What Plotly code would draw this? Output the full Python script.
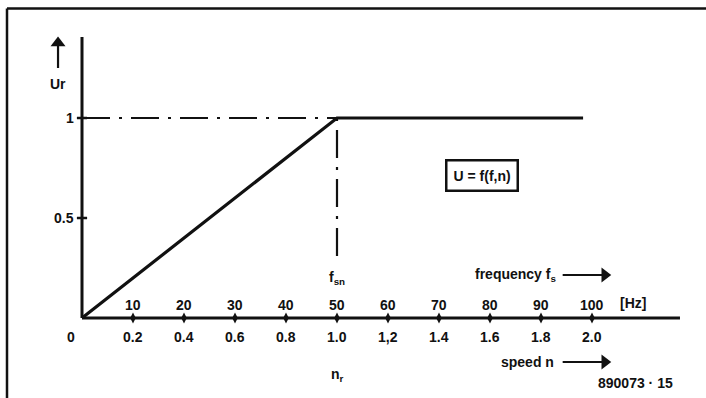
import plotly.graph_objects as go

# ---- data ----
speed_ticks = [0.2, 0.4, 0.6, 0.8, 1.0, 1.2, 1.4, 1.6, 1.8, 2.0]
speed_labels = ["0.2", "0.4", "0.6", "0.8", "1.0", "1,2", "1.4", "1.6", "1.8", "2.0"]
freq_labels = ["10", "20", "30", "40", "50", "60", "70", "80", "90", "100"]
y_ticks = [0.5, 1.0]
y_labels = ["0.5", "1"]
curve_n = [0.0, 1.0, 1.965]
curve_u = [0.0, 1.0, 1.0]
rated_n = 1.0
rated_u = 1.0
x_axis_end = 2.345
y_axis_end = 1.405

FONT = "Liberation Sans Narrow, Arial Narrow, Liberation Sans, Arial"
BLACK = "#111111"

fig = go.Figure()

def line(xs, ys, w=3, dash=None):
    fig.add_trace(go.Scatter(x=xs, y=ys, mode="lines",
                             line=dict(color=BLACK, width=w, dash=dash),
                             hoverinfo="skip"))

# axes
line([0, x_axis_end], [0, 0], 3)
line([0, 0], [0, y_axis_end], 3)
# x ticks
fig.add_trace(go.Scatter(x=speed_ticks, y=[0] * len(speed_ticks), mode="markers",
                         marker=dict(symbol="diamond-tall", size=8, color=BLACK),
                         hoverinfo="skip"))
# y ticks
for yt in y_ticks:
    line([-0.02, 0.02], [yt, yt], 2.5)

# dash-dot reference lines
line([0, rated_n], [rated_u, rated_u], 2.2, "28px,9px,3px,9px")
line([rated_n, rated_n], [rated_u, 0.265], 2.2, "3px,9px,28px,9px")

# main curve
line(curve_n, curve_u, 3.2)

# arrows (line + triangle head)
def arrow(x0, y0, x1, y1, sym):
    line([x0, x1], [y0, y1], 2.2)
    fig.add_trace(go.Scatter(x=[x1], y=[y1], mode="markers",
                             marker=dict(symbol=sym, size=13, color=BLACK,
                                         line=dict(width=0)),
                             hoverinfo="skip"))

arrow(1.885, 0.215, 2.05, 0.215, "triangle-right")
arrow(1.885, -0.22, 2.05, -0.22, "triangle-right")
arrow(-0.094, 1.25, -0.094, 1.375, "triangle-up")

ann = []
tf = dict(family=FONT, size=14, color=BLACK)
for xv, fl, sl in zip(speed_ticks, freq_labels, speed_labels):
    ann.append(dict(x=xv, y=0.065, text="<b>%s</b>" % fl, showarrow=False, font=tf))
    ann.append(dict(x=xv, y=-0.095, text="<b>%s</b>" % sl, showarrow=False, font=tf))
ann.append(dict(x=-0.043, y=-0.095, text="<b>0</b>", showarrow=False, font=tf))
for yt, yl in zip(y_ticks, y_labels):
    ann.append(dict(x=-0.025, y=yt, text="<b>%s</b>" % yl, showarrow=False,
                    xanchor="right", font=tf))
ann.append(dict(x=2.16, y=0.075, text="<b>[Hz]</b>", showarrow=False, font=tf))
ann.append(dict(x=1.0, y=0.2, text="<b>f<sub>sn</sub></b>", showarrow=False, font=tf))
ann.append(dict(x=1.865, y=0.215, text="<b>frequency f<sub>s</sub></b>", showarrow=False,
                xanchor="right", font=tf))
ann.append(dict(x=1.86, y=-0.22, text="<b>speed n</b>", showarrow=False,
                xanchor="right", font=tf))
ann.append(dict(x=1.0, y=-0.285, text="<b>n<sub>r</sub></b>", showarrow=False, font=tf))
ann.append(dict(x=2.17, y=-0.325, text="<b>890073 · 15</b>", showarrow=False, font=tf))
ann.append(dict(x=-0.094, y=1.17, text="<b>Ur</b>", showarrow=False, font=tf))
ann.append(dict(x=1.57, y=0.715, text="<b>U = f(f,n)</b>", showarrow=False, font=tf,
                bordercolor=BLACK, borderwidth=2.5, borderpad=6, bgcolor="white"))

fig.update_layout(
    width=706, height=398,
    margin=dict(l=0, r=0, t=0, b=0),
    paper_bgcolor="white", plot_bgcolor="white",
    showlegend=False,
    annotations=ann,
    xaxis=dict(range=[-82 / 255, (706 - 82) / 255], visible=False, fixedrange=True),
    yaxis=dict(range=[-(398 - 318) / 200, 318 / 200], visible=False, fixedrange=True),
    shapes=[
        dict(type="line", xref="paper", yref="paper", x0=7 / 706, x1=1, y0=1 - 8.5 / 398,
             y1=1 - 8.5 / 398, line=dict(color=BLACK, width=2.5)),
        dict(type="line", xref="paper", yref="paper", x0=7 / 706, x1=7 / 706, y0=0,
             y1=1 - 8.5 / 398, line=dict(color=BLACK, width=2.5)),
    ],
)

fig.write_html("out.html", config={"displayModeBar": False},
               post_script="document.body.style.margin='0';document.body.style.overflow='hidden';")
